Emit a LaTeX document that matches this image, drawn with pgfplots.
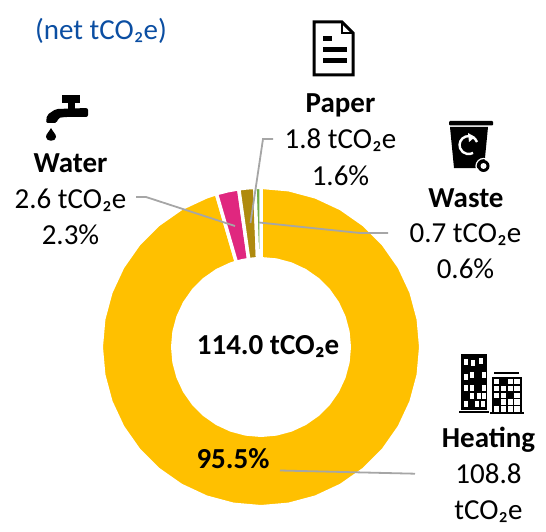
\documentclass[border=0pt]{standalone}
\usepackage{fontspec}
\setmainfont{Carlito}
\usepackage{pgfplots}
\pgfplotsset{compat=1.18}
\usepgfplotslibrary{polar}
\definecolor{heat}{HTML}{FFC000}
\definecolor{wat}{HTML}{E0277F}
\definecolor{pap}{HTML}{AF8A0E}
\definecolor{was}{HTML}{70AD47}
\definecolor{lead}{HTML}{A6A6A6}
\definecolor{ttl}{HTML}{0B4EA2}
\newcommand{\lab}[3]{\node[font=\fontsize{29}{36}\selectfont,anchor=base,inner sep=0pt] at (#1,#2) {#3};}
\begin{document}
\begin{tikzpicture}[x=1pt,y=-1pt]
\useasboundingbox (0,0) rectangle (546,532);
\begin{polaraxis}[at={(261pt,-347pt)},anchor=center,scale only axis,width=320pt,height=320pt,
  hide axis,xmin=0,xmax=360,ymin=0,ymax=160,clip=false,
  every axis plot/.append style={draw=white,line width=3.5pt,line join=miter}]
% Heating 95.5%
\addplot[fill=heat] coordinates {(90,159.75)(80,159.75)(70,159.75)(60,159.75)(50,159.75)(40,159.75)(30,159.75)(20,159.75)(10,159.75)(0,159.75)(350,159.75)(340,159.75)(330,159.75)(320,159.75)(310,159.75)(300,159.75)(290,159.75)(280,159.75)(270,159.75)(260,159.75)(250,159.75)(240,159.75)(230,159.75)(220,159.75)(210,159.75)(200,159.75)(190,159.75)(180,159.75)(170,159.75)(160,159.75)(150,159.75)(140,159.75)(130,159.75)(120,159.75)(110,159.75)(106.2,159.75)
(106.2,88.25)(110,88.25)(120,88.25)(130,88.25)(140,88.25)(150,88.25)(160,88.25)(170,88.25)(180,88.25)(190,88.25)(200,88.25)(210,88.25)(220,88.25)(230,88.25)(240,88.25)(250,88.25)(260,88.25)(270,88.25)(280,88.25)(290,88.25)(300,88.25)(310,88.25)(320,88.25)(330,88.25)(340,88.25)(350,88.25)(0,88.25)(10,88.25)(20,88.25)(30,88.25)(40,88.25)(50,88.25)(60,88.25)(70,88.25)(80,88.25)(90,88.25)} --cycle;
% Water 2.3%
\addplot[fill=wat] coordinates {(106.2,159.75)(102,159.75)(98,159.75)(98,88.25)(102,88.25)(106.2,88.25)} --cycle;
% Paper 1.6%
\addplot[fill=pap] coordinates {(98,159.75)(95,159.75)(92.2,159.75)(92.2,88.25)(95,88.25)(98,88.25)} --cycle;
% Waste 0.6%
\addplot[fill=was] coordinates {(92.2,159.75)(90,159.75)(90,88.25)(92.2,88.25)} --cycle;
\end{polaraxis}
% leader lines
\draw[lead,line width=1.8pt] (136,197)--(146,197)--(235,226);
\draw[lead,line width=1.8pt] (273,139)--(263,139)--(250.5,223);
\draw[lead,line width=1.8pt] (388,233)--(360,233)--(259,222.5);
\draw[lead,line width=1.8pt] (280,470.5)--(415,473.7);
% text
\node[font=\fontsize{29}{30}\selectfont,text=ttl,anchor=base,inner sep=0pt] at (101,40) {(net tCO₂e)};
\lab{70.5}{172}{\textbf{Water}}
\lab{70.5}{208}{2.6 tCO₂e}
\lab{70.5}{244}{2.3\%}
\lab{340.5}{113}{\textbf{Paper}}
\lab{340.5}{149}{1.8 tCO₂e}
\lab{340.5}{185}{1.6\%}
\lab{466}{207}{\textbf{Waste}}
\lab{465.5}{242.5}{0.7 tCO₂e}
\lab{465.5}{278.5}{0.6\%}
\lab{488.5}{447}{\textbf{Heating}}
\lab{488.5}{483.5}{108.8}
\lab{488.5}{519.5}{tCO₂e}
\lab{268}{354}{\textbf{114.0 tCO₂e}}
\lab{233}{468}{\textbf{95.5\%}}
% faucet
\fill (62,95) rectangle (80,103);
\fill (68,103) rectangle (75,109);
\fill[rounded corners=2pt] (88,108) -- (88,117) -- (65,117) -- (58,118) -- (57,123) -- (46,123) -- (47,115) -- (56,109) -- cycle;
\fill (51,128) .. controls (49,132) and (46,134) .. (46,137) .. controls (46,142) and (56,142) .. (56,137) .. controls (56,134) and (53,132) .. (51,128) -- cycle;
% paper
\draw[line width=3pt] (342,22) -- (314,22) -- (314,75) -- (353,75) -- (353,33) -- cycle;
\draw[line width=2pt] (342,22) -- (342,33) -- (353,33);
\fill (323,36) rectangle (332,41);
\fill (323,47) rectangle (347,52);
\fill (323,58) rectangle (347,63);
% bin
\fill[rounded corners=1pt] (449,121) rectangle (493,125.5);
\fill (450,127) -- (488,127) -- (484,168) -- (454,168) -- cycle;
\draw[white,line width=2.4pt] (477,142) arc (-20:-300:9);
\fill[white] (468,133) -- (475,137) -- (469,142) -- cycle;
\draw[white,line width=1.2pt] (483.5,166) circle (7.5);
\fill[black] (483.5,166) circle (6);
\fill[white] (483.5,166) circle (3);
% buildings
\fill (461,355) rectangle (487,410);
\draw[line width=1.2pt] (459,412)--(489,412);
\draw[line width=1.2pt] (461,355)--(487,355);
\foreach \x/\y in {464/359,471/360,479/358,464/374,470/372,482/372,464/385,470/385,482/385,470/393,477/393,482/393,464/401,475/401,481/401}
  \fill[white] (\x,\y) rectangle +(4,6);
\draw[line width=2pt] (494,373)--(519,373);
\fill (492,377) rectangle (522,412);
\draw[line width=1.2pt] (490,413)--(524,413);
\foreach \x in {494,500.8,507.6,514.4}
  \foreach \y in {379,385.8,392.6,399.4,406.2}
    \fill[white] (\x,\y) rectangle +(5.3,5.3);
\fill (500.8,379) rectangle +(5.3,5.3);
\fill (507.6,392.6) rectangle +(5.3,5.3);
\fill (494,399.4) rectangle +(5.3,5.3);
\end{tikzpicture}
\end{document}
